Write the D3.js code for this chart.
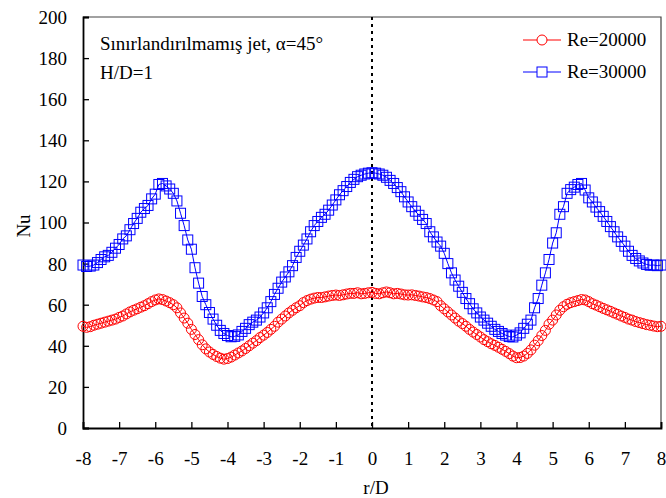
<!DOCTYPE html>
<html>
<head>
<meta charset="utf-8">
<script src="https://cdn.jsdelivr.net/npm/d3@7"></script>
<style>
  body { margin: 0; background: #fff; }
  text { font-family: "Liberation Serif", "Times New Roman", serif; fill: #000; }
</style>
</head>
<body>
<div id="body"></div>
<script>
var rD = [-8, -7.9, -7.8, -7.7, -7.6, -7.5, -7.4, -7.3, -7.2, -7.1,
  -7, -6.9, -6.8, -6.7, -6.6, -6.5, -6.4, -6.3, -6.2, -6.1,
  -6, -5.9, -5.8, -5.7, -5.6, -5.5, -5.4, -5.3, -5.2, -5.1,
  -5, -4.9, -4.8, -4.7, -4.6, -4.5, -4.4, -4.3, -4.2, -4.1,
  -4, -3.9, -3.8, -3.7, -3.6, -3.5, -3.4, -3.3, -3.2, -3.1,
  -3, -2.9, -2.8, -2.7, -2.6, -2.5, -2.4, -2.3, -2.2, -2.1,
  -2, -1.9, -1.8, -1.7, -1.6, -1.5, -1.4, -1.3, -1.2, -1.1,
  -1, -0.9, -0.8, -0.7, -0.6, -0.5, -0.4, -0.3, -0.2, -0.1,
  0, 0.1, 0.2, 0.3, 0.4, 0.5, 0.6, 0.7, 0.8, 0.9,
  1, 1.1, 1.2, 1.3, 1.4, 1.5, 1.6, 1.7, 1.8, 1.9,
  2, 2.1, 2.2, 2.3, 2.4, 2.5, 2.6, 2.7, 2.8, 2.9,
  3, 3.1, 3.2, 3.3, 3.4, 3.5, 3.6, 3.7, 3.8, 3.9,
  4, 4.1, 4.2, 4.3, 4.4, 4.5, 4.6, 4.7, 4.8, 4.9,
  5, 5.1, 5.2, 5.3, 5.4, 5.5, 5.6, 5.7, 5.8, 5.9,
  6, 6.1, 6.2, 6.3, 6.4, 6.5, 6.6, 6.7, 6.8, 6.9,
  7, 7.1, 7.2, 7.3, 7.4, 7.5, 7.6, 7.7, 7.8, 7.9, 8];

var nuRe20000 = [49.5, 49, 49.3, 50, 50.5, 51, 51.5, 52, 52.5, 53,
  53.8, 54.5, 55.5, 56.5, 57.3, 58, 58.8, 59.5, 60.5, 61.5,
  62.3, 62.8, 62.5, 61.8, 61, 60, 58.5, 56, 53.5, 51,
  48, 45.5, 43, 40.5, 38.5, 37, 35.8, 34.8, 34, 33.5,
  33.8, 34.5, 35.5, 36.5, 37.5, 38.7, 40, 41.3, 42.5, 44,
  45.2, 46.5, 48, 49.5, 51.5, 53, 54.5, 56, 57.3, 58.5,
  59.5, 61, 62, 62.7, 63.2, 63.5, 63.5, 63.8, 64.2, 64.5,
  64.7, 64.5, 64.8, 65.2, 65.5, 65.5, 65.8, 65.3, 65.5, 65.8,
  66, 65.5, 65.3, 65.8, 66.2, 65.8, 65.3, 65.5, 65.2, 64.8,
  64.7, 64.8, 64.5, 64.2, 63.8, 63.5, 63, 62.3, 61.5, 59.5,
  58, 56.5, 55, 53.5, 52, 50.8, 49.5, 48, 46.7, 45.5,
  44.3, 43, 42, 41, 40.2, 39.3, 38.3, 37.3, 36.2, 35,
  34.2, 34.3, 35, 36.3, 38, 40.3, 42.5, 45, 47.5, 50.5,
  52.5, 55, 57.3, 59, 60.2, 61, 61.5, 62, 62.5, 62.3,
  61.5, 60.5, 59.8, 59, 58.2, 57.5, 56.8, 56, 55.3, 54.5,
  53.8, 53, 52.5, 51.8, 51.3, 50.8, 50.3, 50, 49.6, 49.3, 49.5];

var nuRe30000 = [79.3, 78.6, 78.8, 79.3, 80.5, 82, 83.3, 84, 85.5, 87.5,
  89.3, 92, 93.5, 96.5, 99.5, 102, 105, 106.8, 108.3, 111.5,
  113.8, 118.5, 119, 117.8, 116.3, 114.2, 110.5, 104.5, 98.5, 91.5,
  87, 78, 70.5, 64, 60, 56.2, 53, 50, 47.5, 46,
  45, 44.4, 44.6, 45.3, 47, 48.5, 50.3, 51.5, 52.5, 54,
  56, 58.5, 61.5, 65, 68, 71, 73.5, 76, 79, 83,
  86, 89, 92, 95.5, 98.5, 100.5, 102.5, 104, 106, 108.5,
  111, 113.5, 115.5, 117.5, 119.5, 121, 122.3, 123, 123.6, 124,
  124.2, 124, 123.6, 123, 122, 120.5, 119, 117, 115, 112.5,
  110, 107.7, 105.5, 103.5, 101.5, 99.5, 95.5, 93, 90.5, 88.5,
  85, 80, 75.5, 72, 69, 66, 63, 60.5, 58, 56,
  54, 52.5, 51, 49.5, 48, 47, 46, 45.2, 44.5, 44.3,
  45.2, 46.3, 48.5, 50.5, 52.5, 58.5, 63, 69.5, 75.5, 82,
  90, 95, 104, 107.7, 114.2, 116, 117.2, 118.5, 119, 115.8,
  112, 110, 107.5, 105.3, 103, 100.5, 98, 95.5, 93, 90.8,
  88.5, 86, 84, 82.5, 81.3, 80.3, 79.6, 79.2, 79.3, 79, 79.3];

var xTicks = [-8, -7, -6, -5, -4, -3, -2, -1, 0, 1, 2, 3, 4, 5, 6, 7, 8];
var yTicks = [0, 20, 40, 60, 80, 100, 120, 140, 160, 180, 200];
var seriesNames = ["Re=20000", "Re=30000"];
var noteLines = ["Sınırlandırılmamış jet, α=45°", "H/D=1"];

var margin = { top: 17, right: 5, bottom: 70, left: 83 };

var svg = d3.select("#body")
  .append("svg")
  .attr("width", 666)
  .attr("height", 498);

var g = svg.append("g")
  .attr("transform", "translate(" + margin.left + "," + margin.top + ")");

var x = d3.scaleLinear().domain([-8, 8]).range([0, 578]);
var y = d3.scaleLinear().domain([0, 200]).range([411, 0]);

// frame (top and right)
g.append("path")
  .attr("d", "M0,0H" + x(8) + "V" + y(0))
  .attr("fill", "none")
  .attr("stroke", "#444")
  .attr("stroke-width", 1.2);

// axes, ticks inside
var xAxis = g.append("g")
  .attr("transform", "translate(0," + y(0) + ")")
  .call(d3.axisBottom(x).tickValues(xTicks).tickSize(-6).tickPadding(24));

var yAxis = g.append("g")
  .call(d3.axisLeft(y).tickValues(yTicks).tickSize(-6).tickPadding(16));

[xAxis, yAxis].forEach(function(a) {
  a.select(".domain").attr("stroke", "#000").attr("stroke-width", 1.8);
  a.selectAll(".tick line").attr("stroke", "#000").attr("stroke-width", 1.3);
  a.selectAll(".tick text")
    .attr("font-size", 19)
    .attr("fill", "#000");
});
xAxis.selectAll(".tick text")
  .attr("dy", "0.71em")
  .text(function(d) { return d < 0 ? "-" + Math.abs(d) : d; });
yAxis.selectAll(".tick text").attr("dy", "0.34em");

// dotted centre line
g.append("line")
  .attr("x1", x(0)).attr("x2", x(0))
  .attr("y1", 0).attr("y2", y(0))
  .attr("stroke", "#000")
  .attr("stroke-width", 2)
  .attr("stroke-dasharray", "3,4");

// axis titles
svg.append("text")
  .attr("x", 376)
  .attr("y", 494)
  .attr("text-anchor", "middle")
  .attr("font-size", 19)
  .text("r/D");

svg.append("text")
  .attr("transform", "translate(30,226) rotate(-90)")
  .attr("text-anchor", "middle")
  .attr("font-size", 19)
  .text("Nu");

// series
var red = rD.map(function(d, i) { return [d, nuRe20000[i]]; });
var blue = rD.map(function(d, i) { return [d, nuRe30000[i]]; });

var line = d3.line()
  .x(function(d) { return x(d[0]); })
  .y(function(d) { return y(d[1]); });

g.append("path")
  .datum(red)
  .attr("fill", "none")
  .attr("stroke", "#ff0000")
  .attr("stroke-width", 1)
  .attr("d", line);

g.append("g")
  .selectAll("circle")
  .data(red)
  .enter()
  .append("circle")
  .attr("cx", function(d) { return x(d[0]); })
  .attr("cy", function(d) { return y(d[1]); })
  .attr("r", 5)
  .attr("fill", "none")
  .attr("stroke", "#ff0000")
  .attr("stroke-width", 1);

g.append("path")
  .datum(blue)
  .attr("fill", "none")
  .attr("stroke", "#0000ff")
  .attr("stroke-width", 1)
  .attr("d", line);

g.append("g")
  .selectAll("rect")
  .data(blue)
  .enter()
  .append("rect")
  .attr("x", function(d) { return x(d[0]) - 5; })
  .attr("y", function(d) { return y(d[1]) - 5; })
  .attr("width", 10)
  .attr("height", 10)
  .attr("fill", "none")
  .attr("stroke", "#0000ff")
  .attr("stroke-width", 1);

// annotation
svg.append("g")
  .selectAll("text")
  .data(noteLines)
  .enter()
  .append("text")
  .attr("x", 100)
  .attr("y", function(d, i) { return 50 + i * 29; })
  .attr("font-size", 19)
  .text(function(d) { return d; });

// legend
var legendColors = ["#ff0000", "#0000ff"];
var legend = svg.append("g")
  .selectAll("g")
  .data(seriesNames)
  .enter()
  .append("g")
  .attr("transform", function(d, i) { return "translate(523," + (40 + i * 32) + ")"; });

legend.append("line")
  .attr("x1", 0).attr("x2", 38)
  .attr("stroke", function(d, i) { return legendColors[i]; })
  .attr("stroke-width", 1);

legend.each(function(d, i) {
  var el = d3.select(this);
  if (i === 0) {
    el.append("circle").attr("cx", 19).attr("r", 5)
      .attr("fill", "#fff").attr("stroke", legendColors[i]);
  } else {
    el.append("rect").attr("x", 14).attr("y", -5).attr("width", 10).attr("height", 10)
      .attr("fill", "#fff").attr("stroke", legendColors[i]);
  }
});

legend.append("text")
  .attr("x", 44)
  .attr("dy", "0.34em")
  .attr("font-size", 19)
  .text(function(d) { return d; });
</script>
</body>
</html>
